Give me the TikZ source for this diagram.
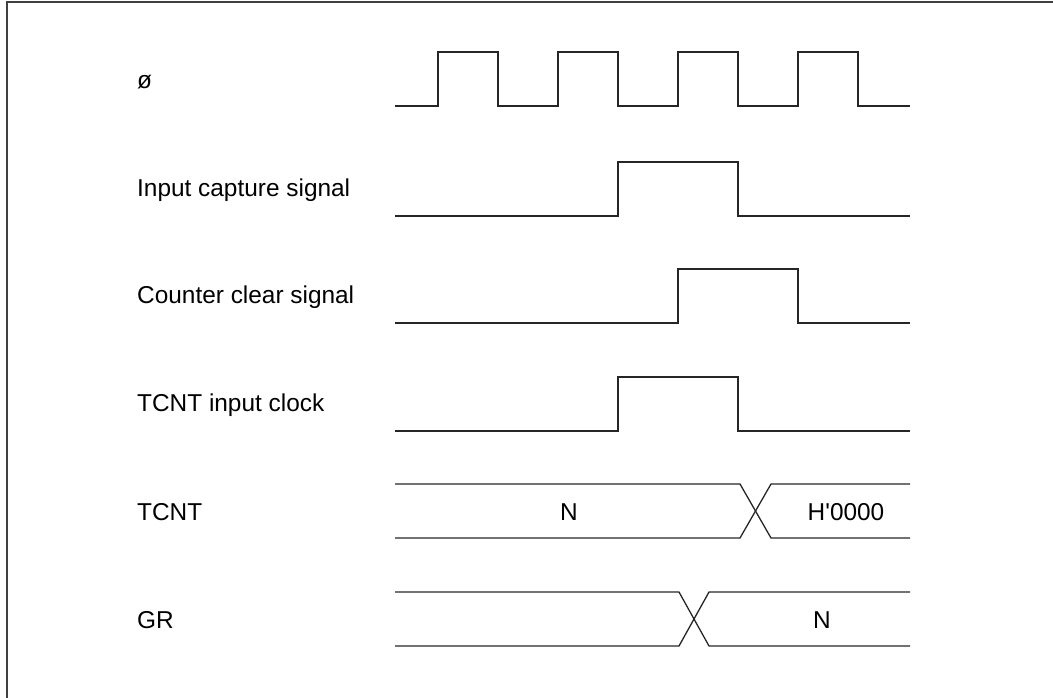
\documentclass[tikz,border=0pt]{standalone}
\usepackage{fontspec}
\setmainfont{Liberation Sans}
\begin{document}
\begin{tikzpicture}[x=1bp,y=-1bp,
  wave/.style={line width=1.3bp,black!85},
  lbl/.style={anchor=west,inner sep=0pt,font=\fontsize{24.4bp}{29bp}\selectfont},
  val/.style={inner sep=0pt,font=\fontsize{24.4bp}{29bp}\selectfont}]
\useasboundingbox (0,0) rectangle (1053,698);
% frame
\draw[line width=2bp,black!75] (7,700) -- (7,2) -- (1055,2);
% labels
\node[lbl] (l1) at (137,82) {ø};
\node[lbl] (l2) at (137,190) {Input capture signal};
\node[lbl] (l3) at (137,297) {Counter clear signal};
\node[lbl] (l4) at (137,405) {TCNT input clock};
\node[lbl] (l5) at (137,512) {TCNT};
\node[lbl] (l6) at (137,620) {GR};
% clock
\draw[wave] (395,106) -- (438,106) -- (438,52) -- (498,52) -- (498,106) -- (558,106) -- (558,52) -- (618,52) -- (618,106)
  -- (678,106) -- (678,52) -- (738,52) -- (738,106) -- (798,106) -- (798,52) -- (858,52) -- (858,106) -- (910,106);
% input capture
\draw[wave] (395,216) -- (618,216) -- (618,162) -- (738,162) -- (738,216) -- (910,216);
% counter clear
\draw[wave] (395,323) -- (678,323) -- (678,269) -- (798,269) -- (798,323) -- (910,323);
% TCNT input clock
\draw[wave] (395,431) -- (618,431) -- (618,377) -- (738,377) -- (738,431) -- (910,431);
% TCNT bus
\draw[wave] (395,484) -- (740,484) -- (771,538) -- (910,538);
\draw[wave] (395,538) -- (740,538) -- (771,484) -- (910,484);
\node[val] (n1) at (569,512) {N};
\node[val] (n2) at (846,512) {H\textquotesingle 0000};
% GR bus
\draw[wave] (395,592) -- (679,592) -- (709,646) -- (910,646);
\draw[wave] (395,646) -- (679,646) -- (709,592) -- (910,592);
\node[val] (n3) at (822,620) {N};
\end{tikzpicture}
\end{document}
